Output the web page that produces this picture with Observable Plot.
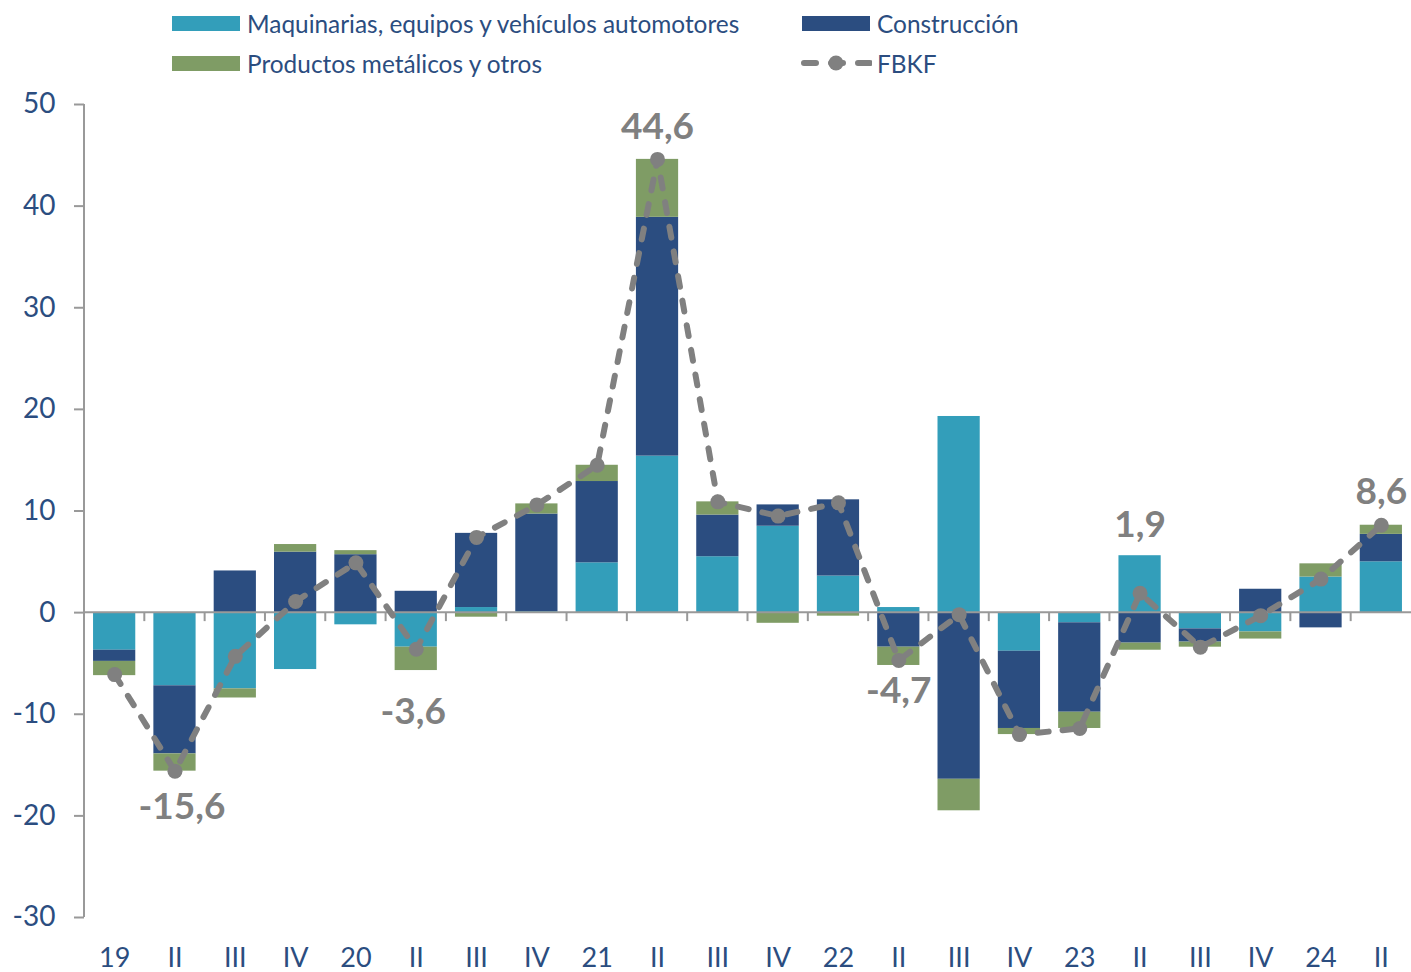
<!DOCTYPE html>
<html>
<head>
<meta charset="utf-8">
<script src="https://cdn.jsdelivr.net/npm/d3@7"></script>
<script src="https://cdn.jsdelivr.net/npm/@observablehq/plot@0.6"></script>
<style>
  html, body { margin: 0; padding: 0; background: #fff; }
  body { width: 1411px; height: 972px; overflow: hidden; font-family: Lato, "Open Sans", sans-serif; }
  #legend { position: relative; height: 86px; width: 1411px; }
  .lg { position: absolute; display: flex; align-items: center; color: #2B4D80; font-size: 24.4px; white-space: nowrap; }
  .sw { width: 68px; height: 15px; margin-right: 7px; }
  #chart svg { display: block; }
</style>
</head>
<body>
<div id="legend"></div>
<div id="chart"></div>
<script>
// ---- Data ----
const quarters = ["19","II","III","IV","20","II","III","IV","21","II","III","IV","22","II","III","IV","23","II","III","IV","24","II"];
const maquinarias = [-3.7, -7.2, -7.5, -5.6, -1.2, -3.4, 0.5, 0.1, 4.9, 15.4, 5.5, 8.5, 3.6, 0.5, 19.3, -3.8, -1.0, 5.6, -1.6, -1.9, 3.5, 5.0];
const construccion = [-1.1, -6.7, 4.1, 5.95, 5.7, 2.1, 7.3, 9.6, 8.0, 23.5, 4.1, 2.1, 7.5, -3.4, -16.4, -7.6, -8.8, -3.0, -1.3, 2.3, -1.5, 2.7];
const productos = [-1.4, -1.7, -0.9, 0.75, 0.4, -2.3, -0.45, 1.0, 1.6, 5.7, 1.3, -1.05, -0.35, -1.8, -3.1, -0.6, -1.6, -0.7, -0.5, -0.7, 1.3, 0.9];
const fbkf = [-6.1, -15.6, -4.3, 1.1, 4.9, -3.6, 7.4, 10.6, 14.5, 44.6, 10.9, 9.5, 10.8, -4.7, -0.2, -12.0, -11.4, 1.9, -3.4, -0.3, 3.3, 8.6];
const labeledIdx = [1, 5, 9, 13, 17, 21];
const labelOffsets = [[7, 36], [-3, 63], [0, -32], [0, 31], [0, -68], [0, -33]];
const yTicks = [-30, -20, -10, 0, 10, 20, 30, 40, 50];
const seriesNames = ["Maquinarias, equipos y vehículos automotores", "Construcción", "Productos metálicos y otros"];
const seriesColors = ["#339EBA", "#2B4D80", "#7F9C65"];
const lineName = "FBKF";
const lineColor = "#808080";
const navy = "#2B4D80";

// ---- Build tables ----
const keys = quarters.map((q, i) => i);
const seriesValues = [maquinarias, construccion, productos];
const bars = [];
seriesNames.forEach((s, si) => keys.forEach(i => bars.push({key: i, series: s, value: seriesValues[si][i]})));
const line = keys.map(i => ({key: i, value: fbkf[i]}));
const labels = labeledIdx.map((i, j) => ({key: i, value: fbkf[i], dx: labelOffsets[j][0], dy: labelOffsets[j][1]}));
const fmt = v => String(v.toFixed(1)).replace(".", ",");

// ---- Legend ----
const legend = document.getElementById("legend");
const legendItems = [
  {name: seriesNames[0], color: seriesColors[0], left: 172, top: 23},
  {name: seriesNames[1], color: seriesColors[1], left: 802, top: 23},
  {name: seriesNames[2], color: seriesColors[2], left: 172, top: 63},
  {name: lineName, color: lineColor, left: 800, top: 63, line: true}
];
legendItems.forEach(it => {
  const d = document.createElement("div");
  d.className = "lg";
  d.style.left = it.left + "px";
  d.style.top = (it.top - 15) + "px";
  d.style.height = "30px";
  if (it.line) {
    d.innerHTML = `<svg width="72" height="20" style="margin-right:5px"><line x1="4" y1="10" x2="70" y2="10" stroke="${it.color}" stroke-width="6" stroke-linecap="round" stroke-dasharray="12,15"/><circle cx="36" cy="10" r="7.5" fill="${it.color}"/></svg><span>${it.name}</span>`;
  } else {
    d.innerHTML = `<div class="sw" style="background:${it.color}"></div><span>${it.name}</span>`;
  }
  legend.appendChild(d);
});

// ---- Chart ----
const W = 1411, H = 886;
const mTop = 18, mBottom = 55, mLeft = 84, mRight = 0;

const decorations = (index, scales, values, dims) => {
  const ns = "http://www.w3.org/2000/svg";
  const g = document.createElementNS(ns, "g");
  const x = scales.x, y = scales.y;
  const bw = typeof x.bandwidth === "function" ? x.bandwidth() : 0;
  const y0 = y(0);
  const mk = (x1, y1, x2, y2) => {
    const l = document.createElementNS(ns, "line");
    l.setAttribute("x1", x1); l.setAttribute("x2", x2);
    l.setAttribute("y1", y1); l.setAttribute("y2", y2);
    l.setAttribute("stroke", "#999"); l.setAttribute("stroke-width", 2);
    g.appendChild(l);
  };
  mk(dims.marginLeft, dims.marginTop, dims.marginLeft, dims.height - dims.marginBottom);
  mk(dims.marginLeft, y0, dims.width - dims.marginRight, y0);
  for (let i = 1; i < keys.length; i++) {
    const xb = (x(keys[i - 1]) + x(keys[i]) + bw) / 2;
    mk(xb, y0, xb, y0 + 9);
  }
  return g;
};

const chart = Plot.plot({
  width: W,
  height: H,
  marginTop: mTop,
  marginBottom: mBottom,
  marginLeft: mLeft,
  marginRight: mRight,
  style: {fontFamily: "Lato, 'Open Sans', sans-serif", background: "#fff"},
  x: {domain: keys, paddingInner: 0.3, paddingOuter: 0.15, round: false, axis: null, label: null},
  y: {domain: [-30, 50], axis: null, label: null},
  color: {domain: seriesNames, range: seriesColors},
  marks: [
    Plot.barY(bars, {x: "key", y: "value", fill: "series", order: null}),
    decorations,
    Plot.axisY({ticks: yTicks, tickSize: 10, tickPadding: 19, stroke: "#999", strokeWidth: 2, fill: navy, fontSize: 28, tickFormat: d => String(d), label: null}),
    Plot.axisX({tickSize: 0, tickPadding: 30, fill: navy, fontSize: 27, tickFormat: i => quarters[i], label: null}),
    Plot.line(line, {x: "key", y: "value", stroke: lineColor, strokeWidth: 6, strokeDasharray: "11,14", strokeLinecap: "round"}),
    Plot.dot(line, {x: "key", y: "value", r: 7.5, fill: lineColor, stroke: null}),
    Plot.text(labels, {x: "key", y: "value", text: d => fmt(d.value), fill: lineColor, fontSize: 37, fontWeight: 700})
  ]
});
document.getElementById("chart").appendChild(chart);
// per-label offsets
const texts = chart.querySelectorAll("g[aria-label='text'] text");
texts.forEach((t, j) => {
  t.setAttribute("transform", (t.getAttribute("transform") || "") + ` translate(${labels[j].dx},${labels[j].dy})`);
});
</script>
</body>
</html>
